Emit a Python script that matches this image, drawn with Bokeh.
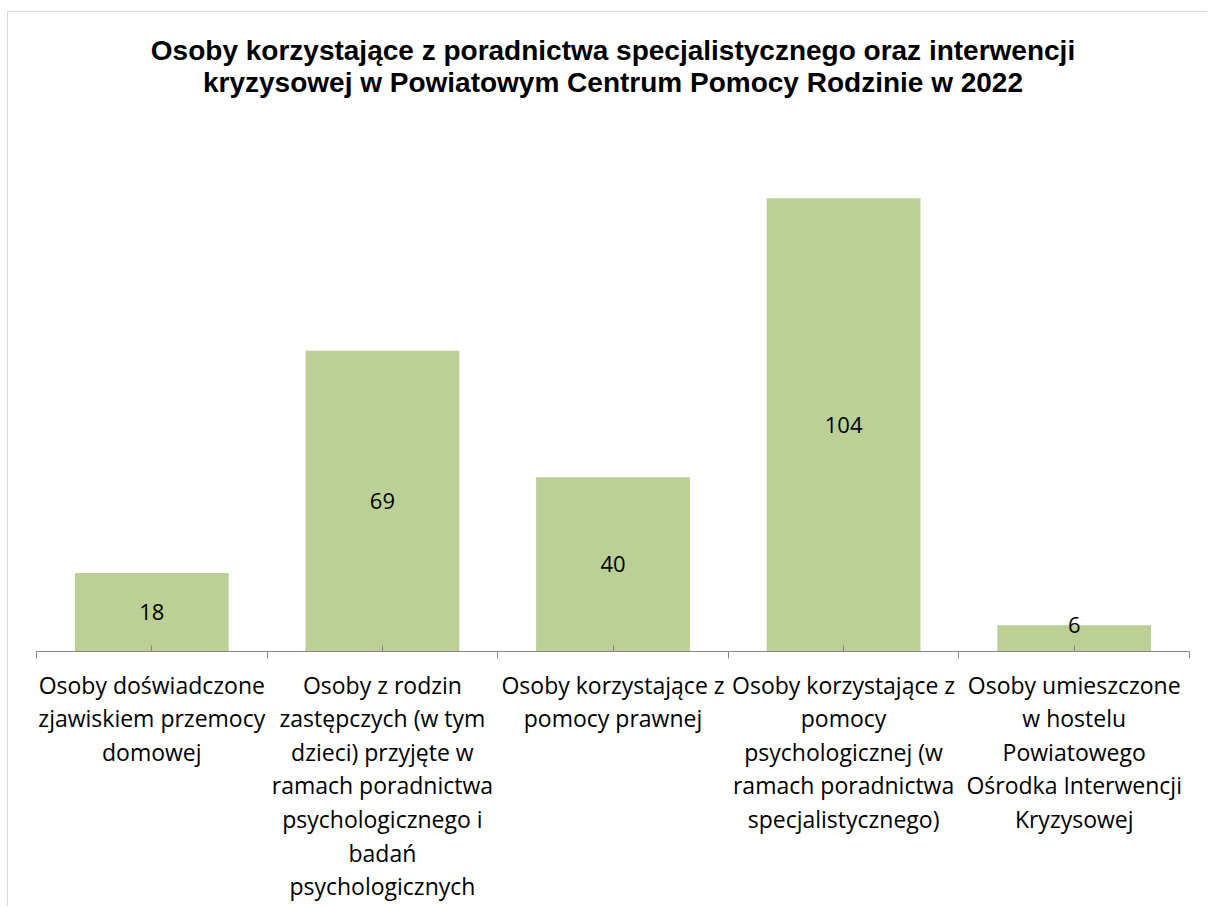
import numpy as np
from bokeh.plotting import figure
from bokeh.layouts import column
from bokeh.models import Range1d, FixedTicker, ColumnDataSource, LabelSet
from bokeh.core.properties import value
from bokeh.embed import file_html
from bokeh.resources import INLINE

categories = [
    "Osoby doświadczone\nzjawiskiem przemocy\ndomowej",
    "Osoby z rodzin\nzastępczych (w tym\ndzieci) przyjęte w\nramach poradnictwa\npsychologicznego i\nbadań\npsychologicznych",
    "Osoby korzystające z\npomocy prawnej",
    "Osoby korzystające z\npomocy\npsychologicznej (w\nramach poradnictwa\nspecjalistycznego)",
    "Osoby umieszczone\nw hostelu\nPowiatowego\nOśrodka Interwencji\nKryzysowej",
]
values = [18, 69, 40, 104, 6]
title_lines = ["Osoby korzystające z poradnictwa specjalistycznego oraz interwencji",
               "kryzysowej w Powiatowym Centrum Pomocy Rodzinie w 2022"]

n = len(categories)
centers = np.arange(n) + 0.5
vals = np.array(values, dtype=float)
label_y = np.maximum(vals / 2, 6)

W = 1200
TH = 105   # title strip height
H = 790    # chart height

# ---- title strip (pixel coordinates) ----
t = figure(width=W, height=TH, output_backend="svg", toolbar_location=None,
           x_range=Range1d(0, W), y_range=Range1d(0, TH), min_border=0)
t.axis.visible = False
t.grid.visible = False
t.outline_line_color = None
tsrc = ColumnDataSource(dict(x=[600, 600], y=[TH - 38, TH - 70], txt=title_lines))
t.text(x="x", y="y", text="txt", source=tsrc, text_align="center",
       text_baseline="alphabetic", text_font=value("Liberation Sans"),
       text_font_size=value("28px"), text_font_style=value("bold"),
       text_color="#000000")

# ---- chart ----
src = ColumnDataSource(dict(x=centers, top=vals, ly=label_y, txt=[str(v) for v in values]))
p = figure(width=W, height=H, output_backend="svg", toolbar_location=None,
           x_range=Range1d(0, n), y_range=Range1d(0, 120),
           min_border_left=28, min_border_right=19, min_border_top=12, min_border_bottom=255)
p.title.visible = False

p.vbar(x="x", top="top", width=0.667, bottom=0, source=src,
       fill_color="#BBCF97", line_color=None)

labels = LabelSet(x="x", y="ly", text="txt", source=src, text_align="center",
                  text_baseline="middle", text_font=value("Open Sans"),
                  text_font_size=value("22px"), text_color="#000000")
p.add_layout(labels)

p.yaxis.visible = False
p.grid.visible = False
p.outline_line_color = None

ax = p.xaxis[0]
ax.ticker = FixedTicker(ticks=list(centers), minor_ticks=list(np.arange(n + 1)))
ax.major_label_overrides = {float(c): s for c, s in zip(centers, categories)}
ax.axis_line_color = "#868686"
ax.major_tick_line_color = "#868686"
ax.minor_tick_line_color = "#868686"
ax.major_tick_in = 6
ax.major_tick_out = 0
ax.minor_tick_in = 0
ax.minor_tick_out = 7
ax.major_label_text_font = "Open Sans"
ax.major_label_text_font_size = "23px"
ax.major_label_text_color = "#000000"
ax.major_label_text_line_height = 1.05
ax.major_label_standoff = 10

t.styles = {"border-top": "1px solid #d9d9d9", "border-left": "1px solid #d9d9d9"}
p.styles = {"border-left": "1px solid #d9d9d9"}

layout = column(t, p, spacing=0)
layout.styles = {"margin-left": "7px", "margin-top": "11px"}

open("out.html", "w").write(file_html(layout, INLINE))
